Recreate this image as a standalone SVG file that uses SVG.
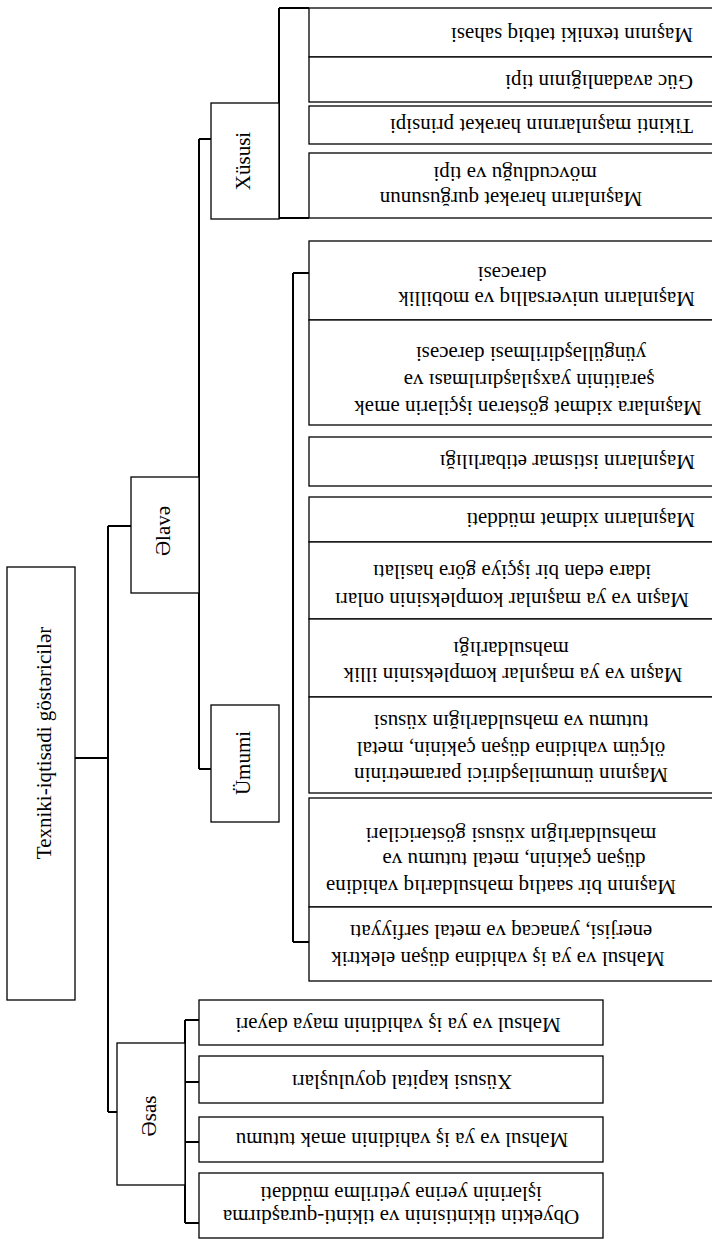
<svg xmlns="http://www.w3.org/2000/svg" width="712" height="1239" viewBox="0 0 712 1239">
<style>
.box{fill:#fff;stroke:#000;stroke-width:1.3}
.con{fill:none;stroke:#000;stroke-width:2}
text{font-family:"Liberation Serif","Times New Roman",serif;font-size:21px;fill:#000}
.m{text-anchor:middle}
.s{text-anchor:start}
</style>
<rect width="712" height="1239" fill="#fff"/>
<g id="connectors">
<path class="con" d="M75,758 H108"/>
<path class="con" d="M108,526 V1112"/>
<path class="con" d="M108,526 H131"/>
<path class="con" d="M108,1112 H130"/>
<path class="con" d="M199,139 V769"/>
<path class="con" d="M199,139 H211"/>
<path class="con" d="M199,769 H211"/>
<path class="con" d="M279,8 V218 M279,8 H309 M279,218 H309"/>
<path class="con" d="M293,273 V942 M293,273 H314 M293,942 H313"/>
<path class="con" d="M185,1020 V1223 M185,1020 H199 M185,1082 H199 M185,1142 H199 M185,1223 H199"/>
</g>
<g id="root">
<rect class="box" x="7" y="567" width="68" height="433"/>
<text class="m" transform="translate(51,743) rotate(-90)">Texniki-iqtisadi göstəricilər</text>
</g>
<g id="elave">
<rect class="box" x="131" y="477" width="68" height="116"/>
<text class="m" transform="translate(170,531) rotate(-90)">Əlavə</text>
</g>
<g id="xususi">
<rect class="box" x="211" y="103" width="68" height="116"/>
<text class="m" transform="translate(250,161) rotate(-90)">Xüsusi</text>
</g>
<g id="umumi">
<rect class="box" x="211" y="705" width="68" height="117"/>
<text class="m" transform="translate(250,763) rotate(-90)">Ümumi</text>
</g>
<g id="esas">
<rect class="box" x="117" y="1043" width="68" height="142"/>
<text class="m" transform="translate(156,1116) rotate(-90)">Əsas</text>
</g>
<g id="x1"><rect class="box" x="309" y="8" width="410" height="49"/>
<text class="s" x="693" y="28" transform="rotate(180 693 28)">Maşının texniki tətbiq sahəsi</text></g>
<g id="x2"><rect class="box" x="309" y="57" width="410" height="45"/>
<text class="s" x="693" y="75" transform="rotate(180 693 75)">Güc avadanlığının tipi</text></g>
<g id="x3"><rect class="box" x="309" y="106" width="410" height="38"/>
<text class="s" x="693" y="119" transform="rotate(180 693 119)">Tikinti maşınlarının hərəkət prinsipi</text></g>
<g id="x4"><rect class="box" x="309" y="153" width="410" height="65"/>
<text class="m" x="511" y="192" transform="rotate(180 511 192)">Maşınların hərəkət qurğusunun</text>
<text class="m" x="515" y="167" transform="rotate(180 515 167)">mövcudluğu və tipi</text></g>
<g id="u1"><rect class="box" x="309" y="241" width="410" height="79"/>
<text class="s" x="695" y="292" transform="rotate(180 695 292)">Maşınların universallıq və mobillik</text>
<text class="m" x="512" y="267" transform="rotate(180 512 267)">dərəcəsi</text></g>
<g id="u2"><rect class="box" x="309" y="320" width="410" height="105"/>
<text class="m" x="528" y="401" transform="rotate(180 528 401)">Maşınlara xidmət göstərən işçilərin əmək</text>
<text class="m" x="529" y="374" transform="rotate(180 529 374)">şəraitinin yaxşılaşdırılması və</text>
<text class="m" x="531" y="347" transform="rotate(180 531 347)">yüngülləşdirilməsi dərəcəsi</text></g>
<g id="u3"><rect class="box" x="309" y="437" width="410" height="49"/>
<text class="s" x="695" y="455" transform="rotate(180 695 455)">Maşınların istismar etibarlılığı</text></g>
<g id="u4"><rect class="box" x="309" y="497" width="410" height="45"/>
<text class="s" x="695" y="513" transform="rotate(180 695 513)">Maşınların xidmət müddəti</text></g>
<g id="u5"><rect class="box" x="309" y="542" width="410" height="77"/>
<text class="m" x="512" y="593" transform="rotate(180 512 593)">Maşın və ya maşınlar kompleksinin onları</text>
<text class="m" x="512" y="565" transform="rotate(180 512 565)">idarə edən bir işçiyə görə hasilatı</text></g>
<g id="u6"><rect class="box" x="309" y="619" width="410" height="78"/>
<text class="m" x="513" y="668" transform="rotate(180 513 668)">Maşın və ya maşınlar kompleksinin illik</text>
<text class="m" x="511" y="642" transform="rotate(180 511 642)">məhsuldarlığı</text></g>
<g id="u7"><rect class="box" x="309" y="697" width="410" height="96"/>
<text class="m" x="511" y="768" transform="rotate(180 511 768)">Maşının ümumiləşdirici parametrinin</text>
<text class="m" x="511" y="742" transform="rotate(180 511 742)">ölçüm vahidinə düşən çəkinin, metal</text>
<text class="m" x="511" y="715" transform="rotate(180 511 715)">tutumu və məhsuldarlığın xüsusi</text></g>
<g id="u8"><rect class="box" x="309" y="798" width="410" height="109"/>
<text class="m" x="501" y="880" transform="rotate(180 501 880)">Maşının bir saatlıq məhsuldarlıq vahidinə</text>
<text class="m" x="514" y="853" transform="rotate(180 514 853)">düşən çəkinin, metal tutumu və</text>
<text class="m" x="511" y="828" transform="rotate(180 511 828)">məhsuldarlığın xüsusi göstəriciləri</text></g>
<g id="u9"><rect class="box" x="309" y="907" width="410" height="74"/>
<text class="m" x="498" y="952" transform="rotate(180 498 952)">Məhsul və ya iş vahidinə düşən elektrik</text>
<text class="m" x="501" y="925" transform="rotate(180 501 925)">enerjisi, yanacaq və metal sərfiyyatı</text></g>
<g id="e1"><rect class="box" x="199" y="1000" width="404" height="45"/>
<text class="m" x="398" y="1018" transform="rotate(180 398 1018)">Məhsul və ya iş vahidinin maya dəyəri</text></g>
<g id="e2"><rect class="box" x="199" y="1056" width="404" height="47"/>
<text class="m" x="402" y="1075" transform="rotate(180 402 1075)">Xüsusi kapital qoyuluşları</text></g>
<g id="e3"><rect class="box" x="199" y="1117" width="404" height="45"/>
<text class="m" x="402" y="1133" transform="rotate(180 402 1133)">Məhsul və ya iş vahidinin əmək tutumu</text></g>
<g id="e4"><rect class="box" x="199" y="1173" width="404" height="65"/>
<text class="m" x="401" y="1210" transform="rotate(180 401 1210)">Obyektin tikintisinin və tikinti-quraşdırma</text>
<text class="m" x="401" y="1187" transform="rotate(180 401 1187)">işlərinin yerinə yetirilmə müddəti</text></g>
</svg>
